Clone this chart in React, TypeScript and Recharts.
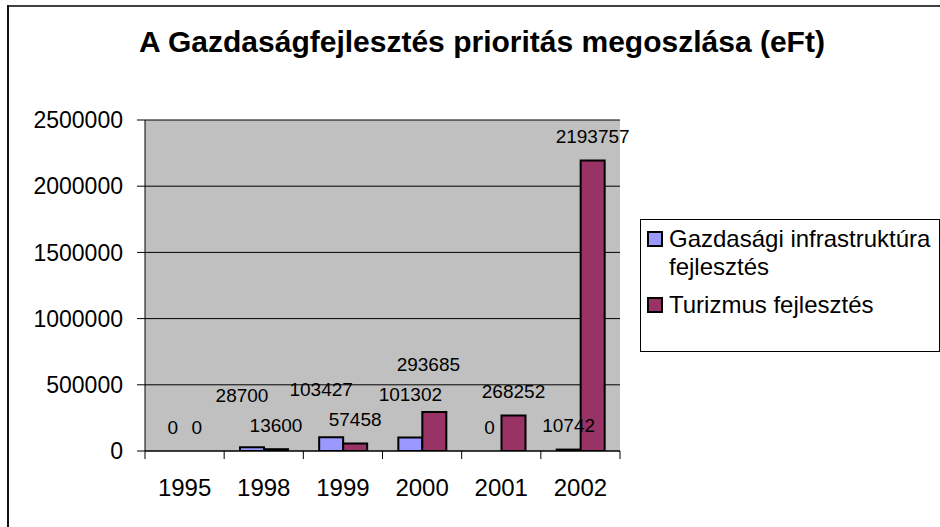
import React from 'react';
import { BarChart, Bar, XAxis, YAxis, CartesianGrid, Legend, LabelList, Rectangle } from 'recharts';

const categories = ['1995', '1998', '1999', '2000', '2001', '2002'];
const infraValues = [0, 28700, 103427, 101302, 0, 10742];
const tourismValues = [0, 13600, 57458, 293685, 268252, 2193757];
const yTicks = [0, 500000, 1000000, 1500000, 2000000, 2500000];
const seriesNames = ['Gazdasági infrastruktúra fejlesztés', 'Turizmus fejlesztés'];
const title = 'A Gazdaságfejlesztés prioritás megoszlása (eFt)';

const data = categories.map((c, i) => ({ year: c, infra: infraValues[i], tourism: tourismValues[i] }));

const FONT = '"Liberation Sans", Arial, Helvetica, sans-serif';
const LABEL_SIZE = 19;
const CHAR_W = 0.556 * LABEL_SIZE;
const LABEL_GAP = 24;
const STACK_GAP = 30;

function XTick(props: any) {
  const { x, y, payload, index, width } = props;
  const half = payload && typeof payload.offset === 'number' && payload.offset > 0 ? payload.offset : (width || 474) / categories.length / 2;
  const left = x - half;
  return (
    <g>
      <line x1={left} y1={y} x2={left} y2={y + 8} stroke="#000" strokeWidth={1} />
      {index === categories.length - 1 && (
        <line x1={x + half} y1={y} x2={x + half} y2={y + 8} stroke="#000" strokeWidth={1} />
      )}
      <text x={x} y={y + 36} dy="0.355em" textAnchor="middle" fontSize={24} fill="#000" fontFamily={FONT}>
        {payload.value}
      </text>
    </g>
  );
}

function getBox(props: any) {
  const vb = props.viewBox && typeof props.viewBox.x === 'number' ? props.viewBox : props;
  return { x: Number(vb.x), y: Number(vb.y), width: Number(vb.width), height: Number(vb.height) };
}

// Label centres for both series of category i, from baseline and pixels-per-unit
function labelLayout(i: number, baseline: number, ppu: number | null, barW: number) {
  const valA = infraValues[i];
  const valB = tourismValues[i];
  const topA = baseline - (ppu && valA > 0 ? valA * ppu : 0);
  const topB = baseline - (ppu && valB > 0 ? valB * ppu : 0);
  let cyA = topA - LABEL_GAP;
  let cyB = topB - LABEL_GAP;
  let dxA = 0;
  let dxB = 0;
  if (ppu && valA > 0 && valB > 0) {
    const wA = String(valA).length * CHAR_W;
    const wB = String(valB).length * CHAR_W;
    // keep the first series' label clear of a neighbouring bar of similar height
    const overlapsBarB = barW / 2 + wA / 2 > barW;
    if (overlapsBarB && cyA + 10 > topB && topB > cyA - STACK_GAP) {
      cyA = topB - 18;
    }
    const hOverlap = (wA + wB) / 2 > barW;
    if (hOverlap && Math.abs(cyA - cyB) < STACK_GAP) {
      if (cyA <= cyB) {
        cyA = cyB - STACK_GAP;
        dxA = -10;
      } else {
        cyB = cyA - STACK_GAP;
        dxB = -6;
      }
    }
  }
  return { cyA, cyB, dxA, dxB };
}

function makeLabel(series: 'A' | 'B') {
  return function SeriesLabel(props: any) {
    const i = Number(props.value);
    if (!(i >= 0)) return null;
    const { x, y, width, height } = getBox(props);
    const baseline = y + height;
    const own = series === 'A' ? infraValues[i] : tourismValues[i];
    const ppu = own > 0 && height > 1 ? height / own : null;
    const lay = labelLayout(i, baseline, ppu, width);
    const cx = x + width / 2 + (series === 'A' ? lay.dxA : lay.dxB);
    const cy = series === 'A' ? lay.cyA : lay.cyB;
    return (
      <text x={cx} y={cy} dy="0.355em" textAnchor="middle" fontSize={LABEL_SIZE} fill="#000" fontFamily={FONT}>
        {own}
      </text>
    );
  };
}

const InfraLabel = makeLabel('A');
const TourismLabel = makeLabel('B');

function makeShape(key: 'infra' | 'tourism') {
  return function BarShape(props: any) {
    const v = props.payload ? props.payload[key] : 1;
    if (!(v > 0)) return <g />;
    return <Rectangle {...props} />;
  };
}
const InfraShape = makeShape('infra');
const TourismShape = makeShape('tourism');

function LegendBox(props: any) {
  const payload = props.payload || [];
  return (
    <div
      style={{
        boxSizing: 'border-box',
        width: 300,
        height: 133,
        border: '1px solid #000',
        background: '#fff',
        paddingTop: 5,
        fontFamily: FONT,
        fontSize: 24,
        color: '#000',
        lineHeight: '28px',
        textAlign: 'left',
      }}
    >
      {payload.map((p: any, i: number) => (
        <div key={i} style={{ position: 'relative', paddingLeft: 28, marginTop: i === 0 ? 0 : 10 }}>
          <span
            style={{
              position: 'absolute',
              left: 6,
              top: 6,
              width: 16,
              height: 16,
              boxSizing: 'border-box',
              border: '2px solid #000',
              background: p.color,
            }}
          />
          {p.value}
        </div>
      ))}
    </div>
  );
}

const indexAccessor = (entry: any, index: number) => {
  const yr = entry && entry.payload ? entry.payload.year : undefined;
  const i = yr !== undefined ? categories.indexOf(yr) : index;
  return String(i);
};

export default function App() {
  return (
    <div
      style={{
        position: 'absolute',
        left: 0,
        top: 0,
        width: 940,
        height: 527,
        overflow: 'hidden',
        background: '#fff',
        fontFamily: FONT,
      }}
    >
      <BarChart
        width={940}
        height={527}
        data={data}
        margin={{ top: 120, right: 320, bottom: 16, left: 0 }}
        barCategoryGap="20%"
        barGap={0}
      >
        <CartesianGrid vertical={false} stroke="#000" strokeWidth={1} fill="#C0C0C0" fillOpacity={1} />
        <XAxis
          dataKey="year"
          height={60}
          stroke="#000"
          axisLine={{ stroke: '#000', strokeWidth: 1 }}
          tickLine={false}
          tickSize={0}
          tickMargin={0}
          interval={0}
          tick={<XTick />}
        />
        <XAxis xAxisId="top" dataKey="year" orientation="top" height={0} axisLine={{ stroke: '#808080', strokeWidth: 2 }} tick={false} tickLine={false} />
        <YAxis
          width={145}
          domain={[0, 2500000]}
          ticks={yTicks}
          interval={0}
          stroke="#000"
          tickSize={8}
          tickMargin={14}
          tick={{ fontSize: 23, fill: '#000', fontFamily: FONT }}
          allowDataOverflow
        />
        <YAxis yAxisId="right" orientation="right" width={0} domain={[0, 2500000]} axisLine={{ stroke: '#808080', strokeWidth: 2 }} tick={false} tickLine={false} />
        <Legend
          layout="vertical"
          align="center"
          verticalAlign="middle"
          wrapperStyle={{ left: 640, top: 219, width: 300, height: 133 }}
          content={<LegendBox />}
        />
        <Bar dataKey="infra" name={seriesNames[0]} fill="#9999FF" stroke="#000" strokeWidth={2} minPointSize={0.5} shape={<InfraShape />} isAnimationActive={false}>
          <LabelList valueAccessor={indexAccessor} content={<InfraLabel />} />
        </Bar>
        <Bar dataKey="tourism" name={seriesNames[1]} fill="#993366" stroke="#000" strokeWidth={2} minPointSize={0.5} shape={<TourismShape />} isAnimationActive={false}>
          <LabelList valueAccessor={indexAccessor} content={<TourismLabel />} />
        </Bar>
      </BarChart>
      <svg width={940} height={527} style={{ position: 'absolute', left: 0, top: 0, pointerEvents: 'none' }}>
        <line x1={7} y1={6} x2={940} y2={6} stroke="#404040" strokeWidth={2} />
        <line x1={8} y1={5} x2={8} y2={527} stroke="#111" strokeWidth={2} />
        <text x={482} y={52} textAnchor="middle" fontSize={30} fontWeight="bold" fill="#000" fontFamily={FONT}>
          {title}
        </text>
      </svg>
    </div>
  );
}
